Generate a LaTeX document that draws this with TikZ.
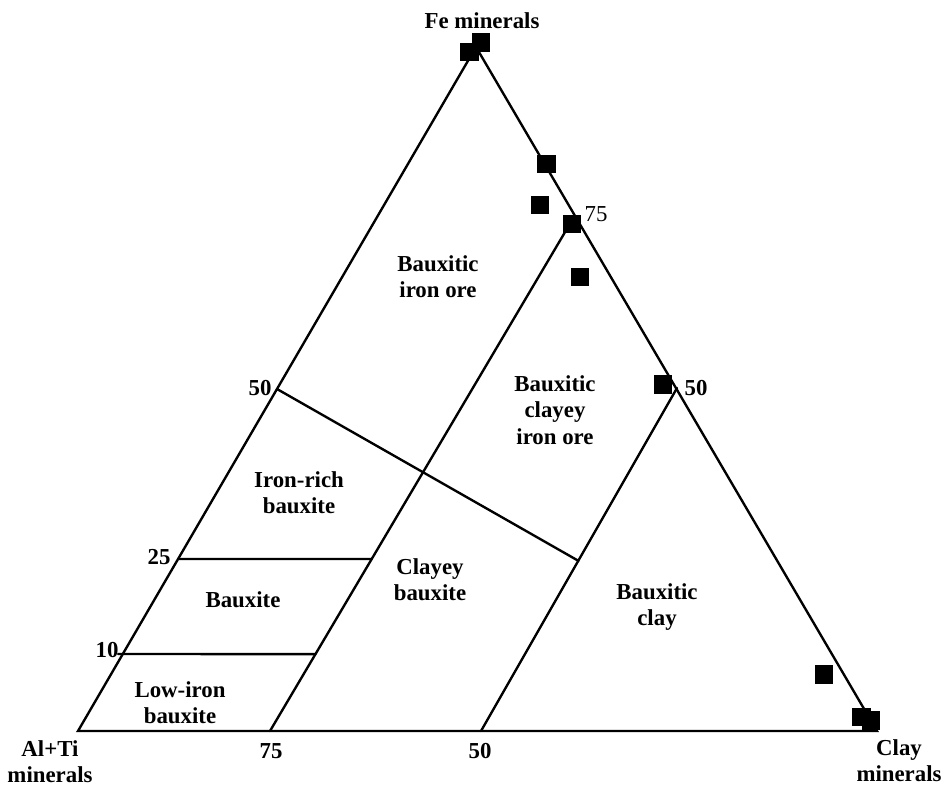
\documentclass[tikz,border=0pt]{standalone}
\usepackage{fontspec}
\setmainfont{Liberation Serif}
\usetikzlibrary{calc}

\tikzset{
  edge/.style={line width=1.35pt, line cap=round},
  zone/.style={font=\bfseries\fontsize{13}{15}\selectfont, align=center, inner sep=0pt},
  tick/.style={font=\bfseries\fontsize{13}{15}\selectfont, inner sep=0pt},
  sample/.style={fill=black, inner sep=0pt, minimum size=0.37cm}
}

\begin{document}
\begin{tikzpicture}[x=0.02cm, y=-0.02cm]
			%%%%% FRAME %%%%%
			\useasboundingbox (0, 0) rectangle (943, 787);
			
			% corners of the ternary plot
			\coordinate (al) at (78, 731);
			\coordinate (clay) at (877, 731);
			\coordinate (fe) at (476, 47);
			
			% marks on the sides
			\coordinate (l50) at (277, 389);
			\coordinate (l25) at (178, 559);
			\coordinate (l10) at (118, 654);
			\coordinate (b75) at (270, 731);
			\coordinate (b50) at (481, 731);
			\coordinate (r75) at (571, 222);
			\coordinate (r50) at (677, 388);
			
			% inner ends
			\coordinate (m50) at (intersection of l50--clay and b50--r50);
			\coordinate (m25) at ($(b75)!0.338!(r75)$);
			\coordinate (m10) at ($(b75)!0.151!(r75)$);
			
			\draw[edge] (al) -- (fe) -- (clay) -- cycle;
			\draw[edge] (b75) -- (r75);
			\draw[edge] (b50) -- (r50);
			\draw[edge] (l50) -- (m50);
			\draw[edge] (l25) -- (m25);
			\draw[edge] (l10) -- (m10);
			
			%%%%% SAMPLES %%%%%
			\foreach \x/\y [count=\i] in {469.5/52, 481/42.5, 546.5/164, 540/205, 572/224, 580/277,
				663/384.5, 824/674.5, 861.5/717, 871/720.5}
				\node[sample] (s\i) at (\x, \y) {};
			
			%%%%% LABELS %%%%%
			\node[zone] (tfe) at (482, 21) {Fe minerals};
			\node[zone] (tal) at (50, 762) {Al+Ti\\minerals};
			\node[zone] (tclay) at (899, 761) {Clay\\minerals};
			
			\node[zone] (zore) at (438, 277) {Bauxitic\\iron ore};
			\node[zone] (zclore) at (555, 410) {Bauxitic\\clayey\\iron ore};
			\node[zone] (zrich) at (299, 493) {Iron-rich\\bauxite};
			\node[zone] (zbx) at (243, 600) {Bauxite};
			\node[zone] (zclbx) at (430, 580) {Clayey\\bauxite};
			\node[zone] (zlow) at (180, 703) {Low-iron\\bauxite};
			\node[zone] (zclay) at (657, 607) {Bauxitic\\clay};
			
			\node[tick] (kl50) at (260, 388) {50};
			\node[tick] (kl25) at (159, 557) {25};
			\node[tick] (kl10) at (107, 650) {10};
			\node[tick] (kb75) at (271, 751) {75};
			\node[tick] (kb50) at (480, 751) {50};
			\node[tick, font=\fontsize{13}{15}\selectfont] (kr75) at (596, 214) {75};
			\node[tick] (kr50) at (696, 388) {50};
			%%%%% END %%%%%
		\end{tikzpicture}
\end{document}
